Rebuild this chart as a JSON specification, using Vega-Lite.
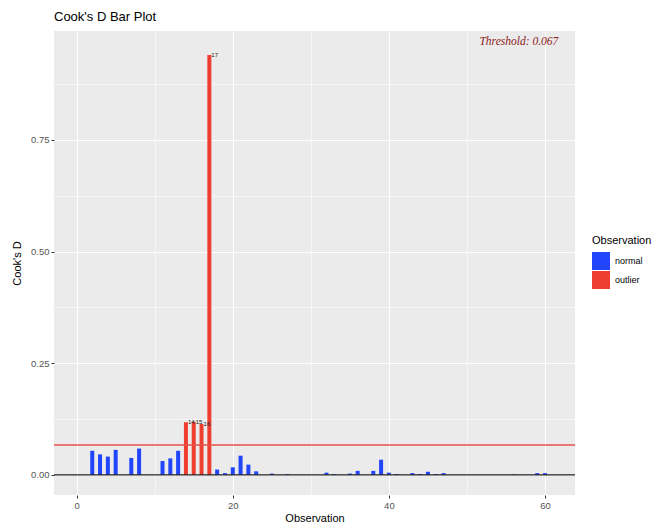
{
  "$schema": "https://vega.github.io/schema/vega-lite/v6.json",
  "width": 521,
  "height": 464,
  "autosize": {"type": "none"},
  "padding": {"left": 54, "top": 31, "right": 81, "bottom": 29},
  "background": "white",
  "title": {"text": "Cook's D Bar Plot", "anchor": "start", "frame": "group", "fontSize": 13, "fontWeight": "normal", "color": "black", "font": "Liberation Sans", "offset": 7},
  "config": {
    "view": {"fill": "#ebebeb", "stroke": null},
    "font": "Liberation Sans",
    "axis": {
      "domain": false,
      "gridColor": "white",
      "tickColor": "#333333",
      "tickSize": 3,
      "labelColor": "#555555",
      "labelFontSize": 9.5,
      "titleColor": "black",
      "titleFontSize": 11,
      "titleFontWeight": "normal"
    }
  },
  "datasets": {
    "cooks": [
      {"obs": 2, "cd": 0.054, "status": "normal"},
      {"obs": 3, "cd": 0.046, "status": "normal"},
      {"obs": 4, "cd": 0.041, "status": "normal"},
      {"obs": 5, "cd": 0.056, "status": "normal"},
      {"obs": 7, "cd": 0.038, "status": "normal"},
      {"obs": 8, "cd": 0.059, "status": "normal"},
      {"obs": 11, "cd": 0.031, "status": "normal"},
      {"obs": 12, "cd": 0.037, "status": "normal"},
      {"obs": 13, "cd": 0.054, "status": "normal"},
      {"obs": 14, "cd": 0.118, "status": "outlier"},
      {"obs": 15, "cd": 0.119, "status": "outlier"},
      {"obs": 16, "cd": 0.114, "status": "outlier"},
      {"obs": 17, "cd": 0.940, "status": "outlier"},
      {"obs": 18, "cd": 0.012, "status": "normal"},
      {"obs": 19, "cd": 0.004, "status": "normal"},
      {"obs": 20, "cd": 0.017, "status": "normal"},
      {"obs": 21, "cd": 0.043, "status": "normal"},
      {"obs": 22, "cd": 0.023, "status": "normal"},
      {"obs": 23, "cd": 0.008, "status": "normal"},
      {"obs": 25, "cd": 0.003, "status": "normal"},
      {"obs": 27, "cd": 0.002, "status": "normal"},
      {"obs": 32, "cd": 0.005, "status": "normal"},
      {"obs": 33, "cd": 0.002, "status": "normal"},
      {"obs": 35, "cd": 0.003, "status": "normal"},
      {"obs": 36, "cd": 0.009, "status": "normal"},
      {"obs": 38, "cd": 0.009, "status": "normal"},
      {"obs": 39, "cd": 0.034, "status": "normal"},
      {"obs": 40, "cd": 0.005, "status": "normal"},
      {"obs": 41, "cd": 0.002, "status": "normal"},
      {"obs": 43, "cd": 0.004, "status": "normal"},
      {"obs": 44, "cd": 0.002, "status": "normal"},
      {"obs": 45, "cd": 0.007, "status": "normal"},
      {"obs": 46, "cd": 0.002, "status": "normal"},
      {"obs": 47, "cd": 0.004, "status": "normal"},
      {"obs": 56, "cd": 0.001, "status": "normal"},
      {"obs": 59, "cd": 0.004, "status": "normal"},
      {"obs": 60, "cd": 0.004, "status": "normal"}
    ],
    "threshold": [
      {"value": 0.067, "label": "Threshold: 0.067"}
    ]
  },
  "layer": [
    {
      "data": {"name": "cooks"},
      "mark": {"type": "bar", "width": 4},
      "encoding": {
        "x": {
          "field": "obs", "type": "quantitative", "title": "Observation",
          "scale": {"domain": [-2.26, 63.2], "nice": false, "zero": false},
          "axis": {
            "values": [0, 10, 20, 30, 40, 50, 60],
            "labelExpr": "datum.value % 20 === 0 ? datum.label : ''",
            "gridWidth": {"condition": {"test": "datum.value % 20 === 0", "value": 1.1}, "value": 0.5},
            "tickOpacity": {"condition": {"test": "datum.value % 20 === 0", "value": 1}, "value": 0},
            "labelPadding": 2,
            "titlePadding": 3
          }
        },
        "y": {
          "field": "cd", "type": "quantitative", "title": "Cook's D",
          "scale": {"domain": [-0.045, 0.994], "nice": false, "zero": false},
          "axis": {
            "values": [0, 0.125, 0.25, 0.375, 0.5, 0.625, 0.75, 0.875],
            "labelExpr": "abs(datum.value * 4 - round(datum.value * 4)) < 0.000001 ? format(datum.value, '.2f') : ''",
            "gridWidth": {"condition": {"test": "abs(datum.value * 4 - round(datum.value * 4)) < 0.000001", "value": 1.1}, "value": 0.5},
            "tickOpacity": {"condition": {"test": "abs(datum.value * 4 - round(datum.value * 4)) < 0.000001", "value": 1}, "value": 0},
            "labelPadding": 2,
            "titlePadding": 8
          }
        },
        "color": {
          "field": "status", "type": "nominal",
          "scale": {"domain": ["normal", "outlier"], "range": ["#2145fb", "#ee3d31"]},
          "legend": {
            "title": "Observation", "orient": "none", "legendX": 538, "legendY": 204,
            "symbolType": "square", "symbolSize": 324, "symbolStrokeWidth": 0, "symbolOpacity": 1,
            "labelFontSize": 9, "labelColor": "black", "labelOffset": 5,
            "titleFontSize": 11, "titleFontWeight": "normal", "titleColor": "black", "titlePadding": 6,
            "rowPadding": 1
          }
        }
      }
    },
    {
      "data": {"name": "threshold"},
      "mark": {"type": "rule", "color": "#222222", "strokeWidth": 1.3},
      "encoding": {"y": {"datum": 0, "type": "quantitative"}}
    },
    {
      "data": {"name": "threshold"},
      "mark": {"type": "rule", "color": "#e9524c", "strokeWidth": 1.3},
      "encoding": {"y": {"field": "value", "type": "quantitative"}}
    },
    {
      "data": {"name": "cooks"},
      "transform": [{"filter": "datum.status === 'outlier'"}],
      "mark": {"type": "text", "align": "left", "baseline": "middle", "dx": 2, "fontSize": 6, "color": "#222222"},
      "encoding": {
        "x": {"field": "obs", "type": "quantitative"},
        "y": {"field": "cd", "type": "quantitative"},
        "text": {"field": "obs", "type": "nominal"}
      }
    },
    {
      "data": {"name": "threshold"},
      "mark": {"type": "text", "align": "right", "baseline": "middle", "font": "Liberation Serif", "fontStyle": "italic", "fontSize": 11.5, "color": "#8b1a1a"},
      "encoding": {
        "x": {"datum": 61.7, "type": "quantitative"},
        "y": {"datum": 0.969, "type": "quantitative"},
        "text": {"field": "label", "type": "nominal"}
      }
    }
  ]
}
